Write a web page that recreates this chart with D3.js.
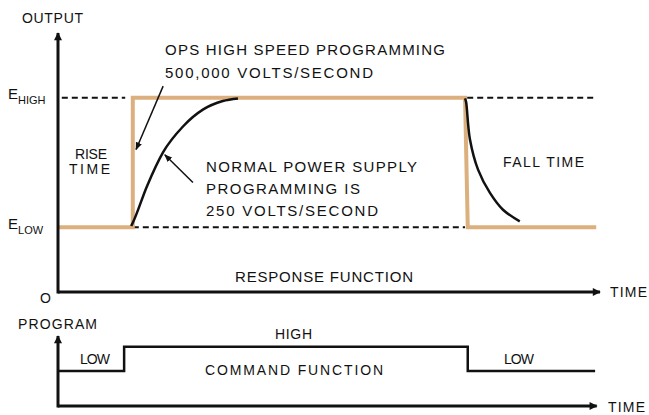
<!DOCTYPE html>
<html><head><meta charset="utf-8">
<script src="https://cdn.jsdelivr.net/npm/d3@7"></script>
<style>body{margin:0;background:#fff}svg{display:block}text{font-family:"Liberation Sans",Arial,sans-serif;fill:#111}</style>
</head><body><svg id="c" width="649" height="415"></svg>
<script>
// ---- data (time in % of axis, output in E units, program level) ----
const E_LOW = 1, E_HIGH = 3;
const opsTimes  = [0, 13.8, 13.8, 75.1, 75.6, 99.3];
const opsValues = [E_LOW, E_LOW, E_HIGH, E_HIGH, E_LOW, E_LOW];
const riseTimes  = [13.5, 13.8, 16.4, 19.4, 23.1, 26.8, 30.4, 33.2];
const riseValues = [1.02, 1.07, 1.63, 2.16, 2.56, 2.82, 2.95, 2.99];
const fallTimes  = [75.1, 75.3, 76.0, 77.5, 79.7, 82.1, 85.2];
const fallValues = [2.99, 2.93, 2.36, 1.89, 1.53, 1.27, 1.09];
const dashHigh = [[0.7, 12.4], [75.5, 99.3]];
const dashLow  = [[13.8, 75.1]];
const PROG_LOW = 1, PROG_HIGH = 1.69;
const cmdTimes  = [0, 12.2, 12.2, 75.6, 75.6, 99.1];
const cmdValues = [PROG_LOW, PROG_LOW, PROG_HIGH, PROG_HIGH, PROG_LOW, PROG_LOW];
const arrowNotes = [ {from:[19.4,3.18], to:[14.4,2.20]}, {from:[24.9,1.69], to:[19.7,2.12]} ];

const svg = d3.select("#c");
const x = d3.scaleLinear().domain([0,100]).range([58,600]);
const y = d3.scaleLinear().domain([0,4]).range([292,33]);
const y2 = d3.scaleLinear().domain([0,2]).range([406,336]);

const defs = svg.append("defs");
defs.append("marker").attr("id","ah").attr("viewBox","0 0 10 10").attr("refX",9).attr("refY",5)
  .attr("markerWidth",10).attr("markerHeight",8).attr("markerUnits","userSpaceOnUse").attr("orient","auto")
  .append("path").attr("d","M0,0L10,5L0,10z").attr("fill","#111");
defs.append("marker").attr("id","ahs").attr("viewBox","0 0 10 10").attr("refX",9).attr("refY",5)
  .attr("markerWidth",8).attr("markerHeight",8).attr("markerUnits","userSpaceOnUse").attr("orient","auto")
  .append("path").attr("d","M0,1L10,5L0,9z").attr("fill","#111");

function txt(s, xx, yy, len, size, anchor){
  const t = svg.append("text").attr("x",xx).attr("y",yy).attr("font-size",size||14).text(s);
  if(len) t.attr("textLength",len).attr("lengthAdjust","spacing");
  if(anchor) t.attr("text-anchor",anchor);
  return t;
}

// dashed reference lines
dashHigh.forEach(d=>svg.append("line").attr("x1",x(d[0])).attr("x2",x(d[1])).attr("y1",y(E_HIGH)).attr("y2",y(E_HIGH))
  .attr("stroke","#111").attr("stroke-width",2).attr("stroke-dasharray","6,4"));
dashLow.forEach(d=>svg.append("line").attr("x1",x(d[0])).attr("x2",x(d[1])).attr("y1",y(E_LOW)).attr("y2",y(E_LOW))
  .attr("stroke","#111").attr("stroke-width",2).attr("stroke-dasharray","6,4"));

const line = d3.line().x(d=>x(d[0])).y(d=>y(d[1]));
// OPS response (orange)
svg.append("path").attr("d", line(opsTimes.map((t,i)=>[t,opsValues[i]])))
  .attr("fill","none").attr("stroke","#dcb07e").attr("stroke-width",4).attr("stroke-linejoin","miter");
// normal supply curves
const curve = d3.line().x(d=>x(d[0])).y(d=>y(d[1])).curve(d3.curveMonotoneX);
svg.append("path").attr("d", curve(riseTimes.map((t,i)=>[t,riseValues[i]])))
  .attr("fill","none").attr("stroke","#111").attr("stroke-width",2.5);
svg.append("path").attr("d", d3.line().x(d=>x(d[0])).y(d=>y(d[1])).curve(d3.curveCatmullRom)(fallTimes.map((t,i)=>[t,fallValues[i]])))
  .attr("fill","none").attr("stroke","#111").attr("stroke-width",2.5);

// annotation arrows
arrowNotes.forEach(a=>svg.append("line").attr("x1",x(a.from[0])).attr("y1",y(a.from[1]))
  .attr("x2",x(a.to[0])).attr("y2",y(a.to[1])).attr("stroke","#111").attr("stroke-width",1.5).attr("marker-end","url(#ahs)"));

// top axes
svg.append("line").attr("x1",x(0)).attr("y1",y(0)+1.5).attr("x2",x(0)).attr("y2",y(4))
  .attr("stroke","#111").attr("stroke-width",3).attr("marker-end","url(#ah)");
svg.append("line").attr("x1",x(0)).attr("y1",y(0)).attr("x2",x(100)).attr("y2",y(0))
  .attr("stroke","#111").attr("stroke-width",3).attr("marker-end","url(#ah)");

// bottom chart
const line2 = d3.line().x(d=>x(d[0])).y(d=>y2(d[1]));
svg.append("path").attr("d", line2(cmdTimes.map((t,i)=>[t,cmdValues[i]])))
  .attr("fill","none").attr("stroke","#111").attr("stroke-width",2.5);
svg.append("line").attr("x1",x(0)).attr("y1",y2(0)+1.5).attr("x2",x(0)).attr("y2",y2(2))
  .attr("stroke","#111").attr("stroke-width",3).attr("marker-end","url(#ah)");
svg.append("line").attr("x1",x(0)).attr("y1",y2(0)).attr("x2",x(99.4)).attr("y2",y2(0))
  .attr("stroke","#111").attr("stroke-width",3).attr("marker-end","url(#ah)");

// texts
txt("OUTPUT", 22, 23, 61, 14);
txt("TIME", 610, 297, 37, 14);
txt("O", 40, 303, null, 14);
const eh = txt("E", 8, 99, null, 15); eh.append("tspan").attr("dy",5).attr("font-size",11).text("HIGH");
const el = txt("E", 8, 229, null, 15); el.append("tspan").attr("dy",5).attr("font-size",11).text("LOW");
txt("OPS HIGH SPEED PROGRAMMING", 165, 55, 280, 15);
txt("500,000 VOLTS/SECOND", 165, 78, 208, 15);
txt("RISE", 75, 159, 32, 14);
txt("TIME", 69, 174, 41, 14);
txt("NORMAL POWER SUPPLY", 206, 172, 211, 15);
txt("PROGRAMMING IS", 206, 194, 154, 15);
txt("250 VOLTS/SECOND", 206, 216, 172, 15);
txt("FALL TIME", 503, 167, 81, 14);
txt("RESPONSE FUNCTION", 235, 282, 178, 15);
txt("PROGRAM", 18, 329, 79, 14);
txt("LOW", 80, 364, 30, 14);
txt("HIGH", 275, 339, 37, 14);
txt("COMMAND FUNCTION", 205, 375, 178, 14);
txt("LOW", 504, 364, 30, 14);
txt("TIME", 608, 412, 37, 14);
</script></body></html>
